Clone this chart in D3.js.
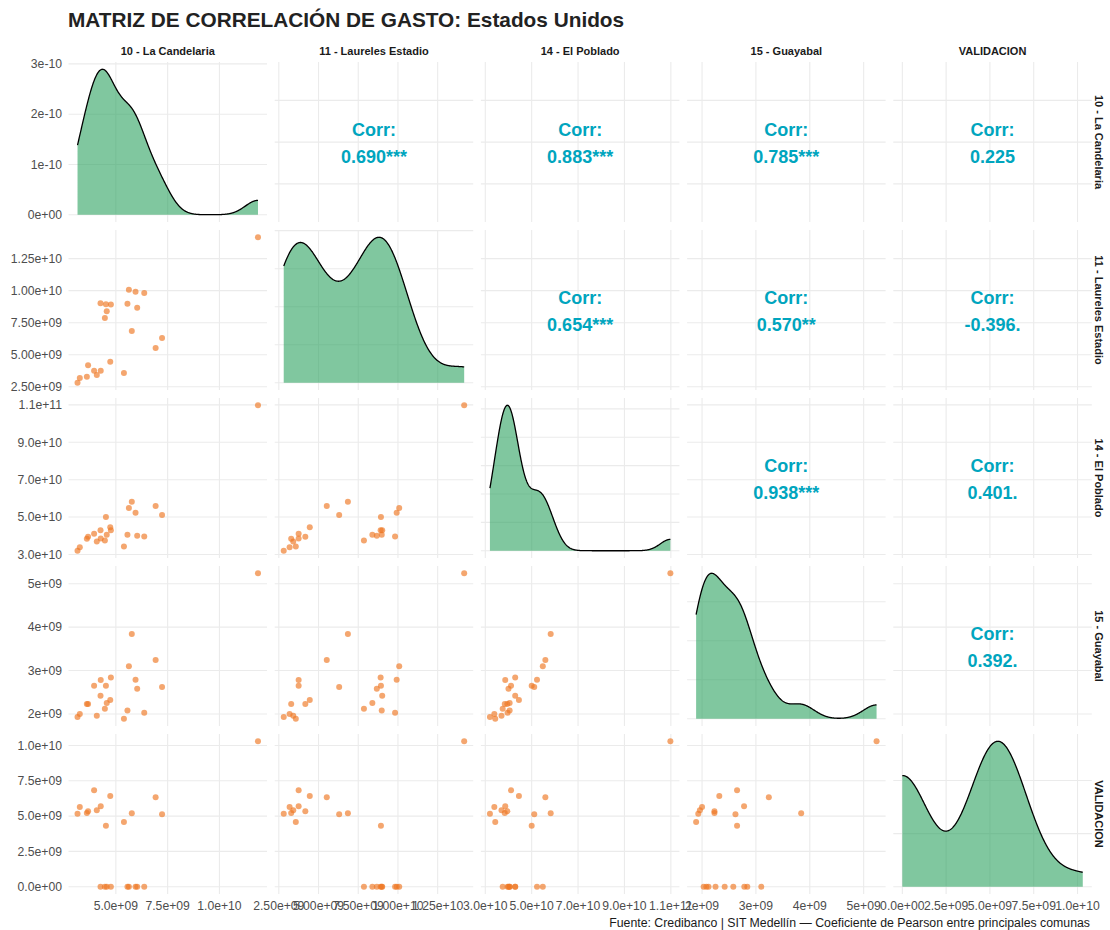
<!DOCTYPE html>
<html>
<head>
<meta charset="utf-8">
<script src="https://cdn.jsdelivr.net/npm/d3@7"></script>
<style>
  body { margin: 0; background: #fff; }
  text { font-family: "Liberation Sans", Arial, sans-serif; }
</style>
</head>
<body>
<svg id="chart" width="1110" height="930"></svg>
<script>
// comunas (variables of the pairs matrix)
const comunas = ["10 - La Candelaria", "11 - Laureles Estadio", "14 - El Poblado", "15 - Guayabal", "VALIDACION"];

const candelaria = [11.86e9, 5.63e9, 5.95e9, 6.37e9, 4.26e9, 4.52e9, 4.76e9, 5.56e9, 6.03e9, 4.56e9, 4.47e9, 5.77e9,
  7.23e9, 6.92e9, 4.73e9, 3.66e9, 3.95e9, 4.27e9, 4.08e9, 5.39e9, 3.60e9, 3.26e9, 3.15e9];
const laureles = [14.17e9, 10.08e9, 9.92e9, 9.82e9, 9.01e9, 8.93e9, 8.91e9, 8.98e9, 8.67e9, 8.39e9, 7.86e9, 6.85e9,
  6.30e9, 5.52e9, 4.45e9, 4.17e9, 3.75e9, 3.75e9, 3.41e9, 3.57e9, 3.28e9, 3.18e9, 2.81e9];
const poblado = [10.98e10, 5.48e10, 5.23e10, 3.96e10, 4.29e10, 5.00e10, 4.29e10, 4.05e10, 4.00e10, 4.05e10, 3.75e10, 5.82e10,
  5.11e10, 5.59e10, 4.45e10, 3.95e10, 4.11e10, 3.86e10, 3.70e10, 3.43e10, 3.84e10, 3.39e10, 3.20e10];
const guayabal = [5.24e9, 3.10e9, 2.785e9, 2.03e9, 2.42e9, 2.65e9, 2.84e9, 2.08e9, 2.58e9, 2.25e9, 2.12e9, 3.84e9,
  2.62e9, 3.24e9, 2.32e9, 2.23e9, 2.65e9, 2.78e9, 1.96e9, 1.89e9, 2.23e9, 2.00e9, 1.93e9];
const validacion = [10.3e9, 0, 0, 0, 0, 4.32e9, 0, 0, 0, 0, 0, 5.20e9,
  5.13e9, 6.33e9, 6.43e9, 5.34e9, 6.83e9, 5.70e9, 5.41e9, 4.58e9, 5.22e9, 5.65e9, 5.17e9];

// axis ticks and their labels
const candTicks = [5e9, 7.5e9, 1e10], candLabels = ["5.0e+09", "7.5e+09", "1.0e+10"];
const laurTicks = [2.5e9, 5e9, 7.5e9, 1e10, 1.25e10], laurLabels = ["2.50e+09", "5.00e+09", "7.50e+09", "1.00e+10", "1.25e+10"];
const pobTicks = [3e10, 5e10, 7e10, 9e10, 1.1e11], pobLabels = ["3.0e+10", "5.0e+10", "7.0e+10", "9.0e+10", "1.1e+11"];
const guayTicks = [2e9, 3e9, 4e9, 5e9], guayLabels = ["2e+09", "3e+09", "4e+09", "5e+09"];
const valTicks = [0, 2.5e9, 5e9, 7.5e9, 1e10], valLabels = ["0.0e+00", "2.5e+09", "5.0e+09", "7.5e+09", "1.0e+10"];
const densTicks = [0, 1e-10, 2e-10, 3e-10], densLabels = ["0e+00", "1e-10", "2e-10", "3e-10"];

// correlation labels of the upper triangle
const corrRow = [0, 0, 0, 0, 1, 1, 1, 2, 2, 3];
const corrCol = [1, 2, 3, 4, 2, 3, 4, 3, 4, 4];
const corrText = ["0.690***", "0.883***", "0.785***", "0.225", "0.654***", "0.570**", "-0.396.", "0.938***", "0.401.", "0.392."];

const series = [candelaria, laureles, poblado, guayabal, validacion];
const ticks = [candTicks, laurTicks, pobTicks, guayTicks, valTicks];
const tickLabels = [candLabels, laurLabels, pobLabels, guayLabels, valLabels];

const svg = d3.select("#chart");
const padL = 68.5, padT = 62, pw = 198.5, ph = 160, gx = 7.7, gy = 8;
const colX = k => padL + k * (pw + gx);
const rowY = k => padT + k * (ph + gy);
const gridCol = "#EBEBEB", axisCol = "#4D4D4D", inkCol = "#1A1A1A";
const axisSize = 12.2;

const expand = ([a, b]) => { const d = (b - a) * 0.05; return [a - d, b + d]; };
const xs = series.map((s, k) => d3.scaleLinear().domain(expand(d3.extent(s))).range([colX(k), colX(k) + pw]));
const ys = series.map((s, k) => d3.scaleLinear().domain(expand(d3.extent(s))).range([rowY(k) + ph, rowY(k)]));

// gaussian kde with bw.nrd0, like stat_density
function kde(v) {
  const s = v.slice().sort(d3.ascending), n = s.length;
  const iqr = d3.quantile(s, 0.75) - d3.quantile(s, 0.25);
  const bw = 0.9 * Math.min(d3.deviation(s), iqr / 1.34) * Math.pow(n, -0.2);
  const [a, b] = d3.extent(s);
  return d3.range(512).map(i => {
    const x = a + (b - a) * i / 511;
    const y = d3.sum(s, xi => Math.exp(-0.5 * ((x - xi) / bw) ** 2)) / (n * bw * Math.sqrt(2 * Math.PI));
    return [x, y];
  });
}

// labeling::extended, the break finder ggplot uses
function extended(dmin, dmax, m) {
  const Q = [1, 5, 2, 2.5, 4, 3], w = [0.25, 0.2, 0.5, 0.05], eps = 2.220446e-14, n = Q.length;
  let best = { score: -2 };
  const simp = (i, j, lmin, lmax, st) => {
    const r = ((lmin % st) + st) % st;
    const v = ((r < eps || st - r < eps) && lmin <= 0 && lmax >= 0) ? 1 : 0;
    return 1 - i / (n - 1) - j + v;
  };
  const cov = (lmin, lmax) => { const r = dmax - dmin; return 1 - 0.5 * ((dmax - lmax) ** 2 + (dmin - lmin) ** 2) / ((0.1 * r) ** 2); };
  const covMax = span => { const r = dmax - dmin; if (span > r) { const h = (span - r) / 2; return 1 - 0.5 * (2 * h * h) / ((0.1 * r) ** 2); } return 1; };
  const dens = (k, lmin, lmax) => { const r = (k - 1) / (lmax - lmin), rt = (m - 1) / (Math.max(lmax, dmax) - Math.min(dmin, lmin)); return 2 - Math.max(r / rt, rt / r); };
  const densMax = k => k >= m ? 2 - (k - 1) / (m - 1) : 1;
  let j = 1;
  outer: while (j < 50) {
    for (let qi = 0; qi < n; qi++) {
      const q = Q[qi], sm = 1 - qi / (n - 1) - j + 1;
      if (w[0] * sm + w[1] + w[2] + w[3] < best.score) break outer;
      for (let k = 2; k < 100; k++) {
        const dm = densMax(k);
        if (w[0] * sm + w[1] + w[2] * dm + w[3] < best.score) break;
        const delta = (dmax - dmin) / (k + 1) / j / q;
        for (let z = Math.ceil(Math.log10(delta)); z < 400; z++) {
          const st = j * q * Math.pow(10, z);
          const cm = covMax(st * (k - 1));
          if (w[0] * sm + w[1] * cm + w[2] * dm + w[3] < best.score) break;
          const minS = Math.floor(dmax / st) * j - (k - 1) * j, maxS = Math.ceil(dmin / st) * j;
          for (let start = minS; start <= maxS; start++) {
            const lmin = start * (st / j), lmax = lmin + st * (k - 1);
            const score = w[0] * simp(qi, j, lmin, lmax, st) + w[1] * cov(lmin, lmax) + w[2] * dens(k, lmin, lmax) + w[3];
            if (score > best.score) best = { lmin, lmax, st, score };
          }
        }
      }
    }
    j++;
  }
  const out = [];
  for (let i = 0; best.lmin + i * best.st <= best.lmax + best.st * 1e-9; i++) out.push(best.lmin + i * best.st);
  return out.filter(t => t >= dmin && t <= dmax);
}

const gGrid = svg.append("g"), gMarks = svg.append("g"), gText = svg.append("g");

function grid(xScale, xt, yScale, yt) {
  const [x0, x1] = xScale.range(), [y1, y0] = yScale.range();
  gGrid.selectAll(null).data(xt).join("line")
    .attr("x1", d => xScale(d)).attr("x2", d => xScale(d)).attr("y1", y0).attr("y2", y1)
    .attr("stroke", gridCol).attr("stroke-width", 1.1);
  gGrid.selectAll(null).data(yt).join("line")
    .attr("y1", d => yScale(d)).attr("y2", d => yScale(d)).attr("x1", x0).attr("x2", x1)
    .attr("stroke", gridCol).attr("stroke-width", 1.1);
}

// diagonal: densities
series.forEach((s, k) => {
  const pts = kde(s);
  const maxD = d3.max(pts, p => p[1]);
  const yd = d3.scaleLinear().domain(expand([0, maxD])).range([rowY(k) + ph, rowY(k)]);
  const yt = k === 0 ? densTicks : extended(yd.domain()[0], yd.domain()[1], 5);
  grid(xs[k], ticks[k], yd, yt);
  gMarks.append("path").datum(pts)
    .attr("d", d3.area().x(p => xs[k](p[0])).y0(yd(0)).y1(p => yd(p[1])))
    .attr("fill", "#2CA25F").attr("fill-opacity", 0.6);
  gMarks.append("path").datum(pts)
    .attr("d", d3.line().x(p => xs[k](p[0])).y(p => yd(p[1])))
    .attr("fill", "none").attr("stroke", "#000").attr("stroke-width", 1.3);
  if (k === 0) {
    gText.selectAll(null).data(densTicks).join("text")
      .attr("x", 62).attr("y", d => yd(d)).attr("dy", "0.35em").attr("text-anchor", "end")
      .attr("font-size", axisSize).attr("fill", axisCol).text((d, i) => densLabels[i]);
  }
});

// lower triangle: scatter
for (let i = 1; i < 5; i++) {
  for (let j = 0; j < i; j++) {
    grid(xs[j], ticks[j], ys[i], ticks[i]);
    gMarks.selectAll(null).data(d3.range(candelaria.length)).join("circle")
      .attr("cx", d => xs[j](series[j][d])).attr("cy", d => ys[i](series[i][d]))
      .attr("r", 3).attr("fill", "#EE7722").attr("fill-opacity", 0.65);
  }
}

// upper triangle: correlations
corrRow.forEach((r, idx) => {
  const c = corrCol[idx];
  grid(xs[c], ticks[c], ys[r], ticks[r]);
  const cx = colX(c) + pw / 2, cy = rowY(r) + ph / 2;
  gText.append("text").attr("x", cx).attr("y", cy - 6).attr("text-anchor", "middle")
    .attr("font-size", 18).attr("font-weight", "bold").attr("fill", "#00A5BE").text("Corr:");
  gText.append("text").attr("x", cx).attr("y", cy + 21).attr("text-anchor", "middle")
    .attr("font-size", 18).attr("font-weight", "bold").attr("fill", "#00A5BE").text(corrText[idx]);
});

// left axis labels (rows 2-5), bottom axis labels, strips
for (let k = 0; k < 5; k++) {
  if (k > 0) {
    gText.selectAll(null).data(ticks[k]).join("text")
      .attr("x", 62).attr("y", d => ys[k](d)).attr("dy", "0.35em").attr("text-anchor", "end")
      .attr("font-size", axisSize).attr("fill", axisCol).text((d, i) => tickLabels[k][i]);
  }
  gText.selectAll(null).data(ticks[k]).join("text")
    .attr("x", d => xs[k](d)).attr("y", 909.5).attr("text-anchor", "middle")
    .attr("font-size", axisSize).attr("fill", axisCol).text((d, i) => tickLabels[k][i]);
  gText.append("text").attr("x", colX(k) + pw / 2).attr("y", 55).attr("text-anchor", "middle")
    .attr("font-size", 11).attr("font-weight", "bold").attr("fill", inkCol).text(comunas[k]);
  gText.append("text")
    .attr("transform", `translate(1099,${rowY(k) + ph / 2}) rotate(90)`)
    .attr("text-anchor", "middle").attr("dy", "0.35em")
    .attr("font-size", 11).attr("font-weight", "bold").attr("fill", inkCol).text(comunas[k]);
}

// title and caption
svg.append("text").attr("x", 68).attr("y", 27).attr("font-size", 20.8).attr("font-weight", "bold")
  .attr("fill", "#222").text("MATRIZ DE CORRELACIÓN DE GASTO: Estados Unidos");
svg.append("text").attr("x", 1090).attr("y", 927).attr("text-anchor", "end").attr("font-size", 12.3)
  .attr("fill", inkCol).text("Fuente: Credibanco | SIT Medellín — Coeficiente de Pearson entre principales comunas");
</script>
</body>
</html>
